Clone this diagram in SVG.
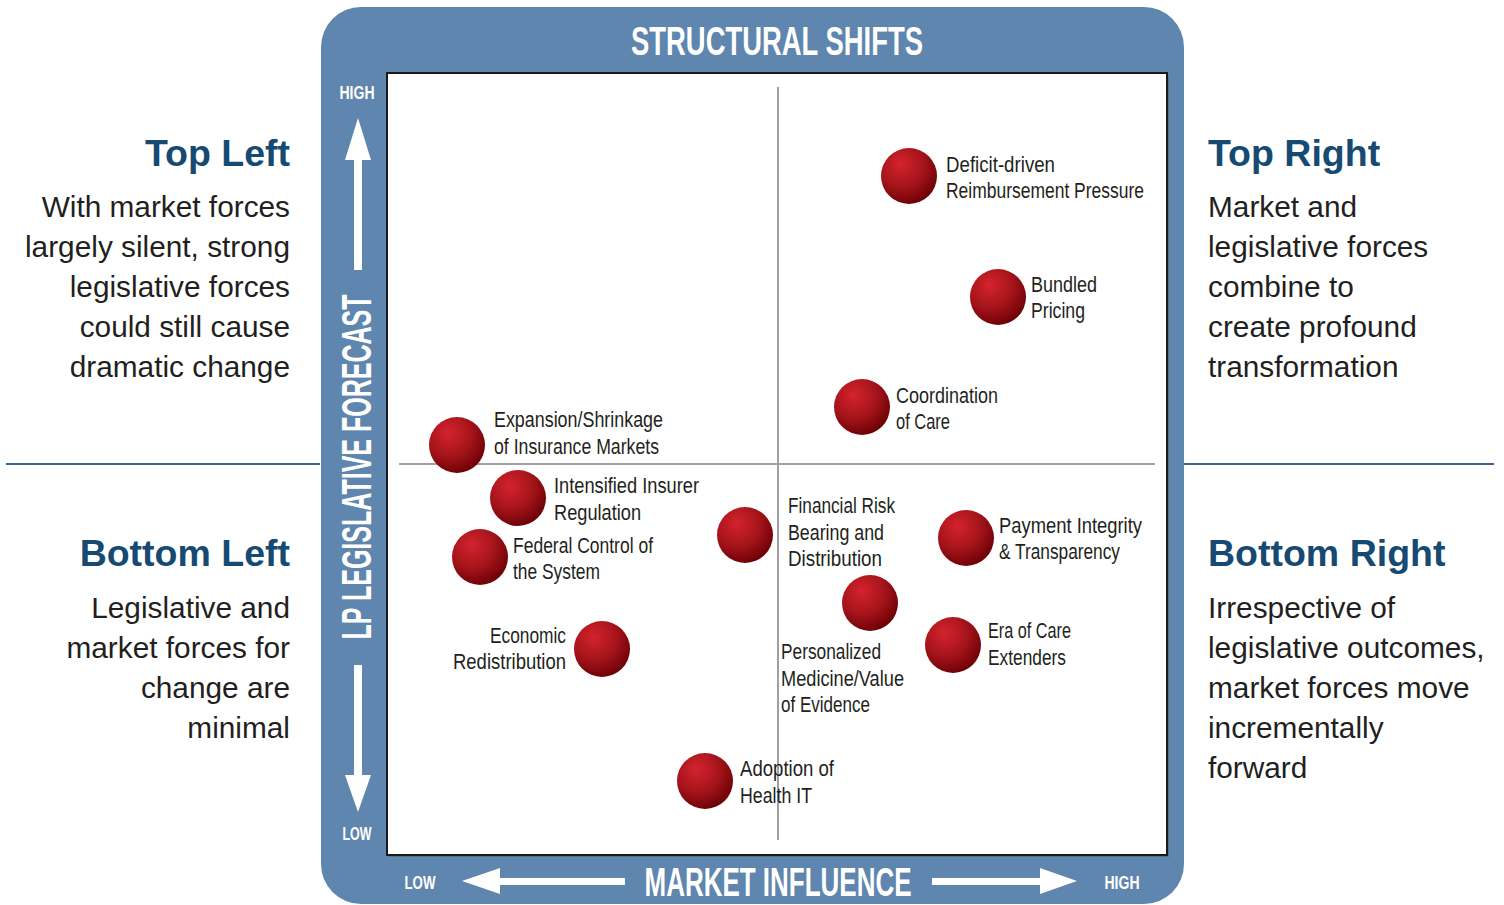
<svg xmlns="http://www.w3.org/2000/svg" width="1504" height="905" viewBox="0 0 1504 905">
<defs>
<radialGradient id="ball" cx="0.38" cy="0.32" r="0.72" fx="0.35" fy="0.28">
<stop offset="0" stop-color="#d5232d"/>
<stop offset="0.55" stop-color="#a5141b"/>
<stop offset="1" stop-color="#6a0004"/>
</radialGradient>
<style>
.frame{fill:#5f86ae}
.lbl{font-family:"Liberation Sans",Arial,sans-serif;font-size:22px;fill:#231f20}
.ax{font-family:"Liberation Sans",Arial,sans-serif;font-weight:bold;fill:#ffffff}
.hd{font-family:"Liberation Sans",Arial,sans-serif;font-weight:bold;font-size:37.5px;fill:#174a72}
.bd{font-family:"Liberation Sans",Arial,sans-serif;font-size:29.8px;fill:#231f20}
.arr{fill:#ffffff}
.sep{stroke:#3b6591;stroke-width:2}
.grid{stroke:#a0a0a0;stroke-width:2}
</style>
</defs>

<g id="frame">
<rect class="frame" x="321" y="7" width="863" height="897" rx="40" ry="40"/>
<rect x="389" y="75" width="780" height="782" fill="#555" opacity="0.5"/>
<rect x="387" y="73" width="780" height="782" fill="#ffffff" stroke="#1a1a1a" stroke-width="2"/>
<text class="ax" x="777" y="55" font-size="40" text-anchor="middle" textLength="292" lengthAdjust="spacingAndGlyphs">STRUCTURAL SHIFTS</text>
<text class="ax" x="778" y="896" font-size="40" text-anchor="middle" textLength="267" lengthAdjust="spacingAndGlyphs">MARKET INFLUENCE</text>
<text class="ax" x="371" y="467" font-size="42" text-anchor="middle" textLength="345" lengthAdjust="spacingAndGlyphs" transform="rotate(-90 371 467)">LP LEGISLATIVE FORECAST</text>
<text class="ax" x="357" y="99" font-size="19" text-anchor="middle" textLength="35" lengthAdjust="spacingAndGlyphs">HIGH</text>
<text class="ax" x="357" y="840" font-size="19" text-anchor="middle" textLength="29" lengthAdjust="spacingAndGlyphs">LOW</text>
<text class="ax" x="420" y="889" font-size="19" text-anchor="middle" textLength="31" lengthAdjust="spacingAndGlyphs">LOW</text>
<text class="ax" x="1122" y="889" font-size="19" text-anchor="middle" textLength="35" lengthAdjust="spacingAndGlyphs">HIGH</text>
<path class="arr" d="M358,118 L371,160 L362,160 L362,270 L354,270 L354,160 L345,160 Z"/>
<path class="arr" d="M358,812 L371,775 L362,775 L362,665 L354,665 L354,775 L345,775 Z"/>
<path class="arr" d="M462,881 L500,868 L500,878 L625,878 L625,885 L500,885 L500,894 Z"/>
<path class="arr" d="M1077,881 L1040,868 L1040,878 L932,878 L932,885 L1040,885 L1040,894 Z"/>
</g>

<g id="connectors">
<line class="sep" x1="6" y1="464" x2="320" y2="464"/>
<line class="sep" x1="1184" y1="464" x2="1494" y2="464"/>
<line class="grid" x1="399" y1="464" x2="1155" y2="464"/>
<line class="grid" x1="778" y1="87" x2="778" y2="840"/>
</g>

<g id="top-left">
<text class="hd" x="290" y="166" text-anchor="end">Top Left</text>
<text class="bd" x="290" y="217" text-anchor="end">With market forces</text>
<text class="bd" x="290" y="257" text-anchor="end">largely silent, strong</text>
<text class="bd" x="290" y="297" text-anchor="end">legislative forces</text>
<text class="bd" x="290" y="337" text-anchor="end">could still cause</text>
<text class="bd" x="290" y="377" text-anchor="end">dramatic change</text>
</g>
<g id="top-right">
<text class="hd" x="1208" y="166">Top Right</text>
<text class="bd" x="1208" y="217">Market and</text>
<text class="bd" x="1208" y="257">legislative forces</text>
<text class="bd" x="1208" y="297">combine to</text>
<text class="bd" x="1208" y="337">create profound</text>
<text class="bd" x="1208" y="377">transformation</text>
</g>
<g id="bottom-left">
<text class="hd" x="290" y="566" text-anchor="end">Bottom Left</text>
<text class="bd" x="290" y="618" text-anchor="end">Legislative and</text>
<text class="bd" x="290" y="658" text-anchor="end">market forces for</text>
<text class="bd" x="290" y="698" text-anchor="end">change are</text>
<text class="bd" x="290" y="738" text-anchor="end">minimal</text>
</g>
<g id="bottom-right">
<text class="hd" x="1208" y="566">Bottom Right</text>
<text class="bd" x="1208" y="618">Irrespective of</text>
<text class="bd" x="1208" y="658">legislative outcomes,</text>
<text class="bd" x="1208" y="698">market forces move</text>
<text class="bd" x="1208" y="738">incrementally</text>
<text class="bd" x="1208" y="778">forward</text>
</g>

<g id="deficit">
<circle cx="909" cy="176" r="28" fill="url(#ball)"/>
<text class="lbl" x="946" y="172" textLength="109" lengthAdjust="spacingAndGlyphs">Deficit-driven</text>
<text class="lbl" x="946" y="198" textLength="198" lengthAdjust="spacingAndGlyphs">Reimbursement Pressure</text>
</g>
<g id="bundled">
<circle cx="998" cy="297" r="28" fill="url(#ball)"/>
<text class="lbl" x="1031" y="292" textLength="66" lengthAdjust="spacingAndGlyphs">Bundled</text>
<text class="lbl" x="1031" y="318" textLength="54" lengthAdjust="spacingAndGlyphs">Pricing</text>
</g>
<g id="coordination">
<circle cx="862" cy="407" r="28" fill="url(#ball)"/>
<text class="lbl" x="896" y="403" textLength="102" lengthAdjust="spacingAndGlyphs">Coordination</text>
<text class="lbl" x="896" y="429" textLength="54" lengthAdjust="spacingAndGlyphs">of Care</text>
</g>
<g id="expansion">
<circle cx="457" cy="445" r="28" fill="url(#ball)"/>
<text class="lbl" x="494" y="427" textLength="169" lengthAdjust="spacingAndGlyphs">Expansion/Shrinkage</text>
<text class="lbl" x="494" y="454" textLength="165" lengthAdjust="spacingAndGlyphs">of Insurance Markets</text>
</g>
<g id="intensified">
<circle cx="518" cy="498" r="28" fill="url(#ball)"/>
<text class="lbl" x="554" y="493" textLength="145" lengthAdjust="spacingAndGlyphs">Intensified Insurer</text>
<text class="lbl" x="554" y="520" textLength="87" lengthAdjust="spacingAndGlyphs">Regulation</text>
</g>
<g id="federal">
<circle cx="480" cy="557" r="28" fill="url(#ball)"/>
<text class="lbl" x="513" y="553" textLength="140" lengthAdjust="spacingAndGlyphs">Federal Control of</text>
<text class="lbl" x="513" y="579" textLength="87" lengthAdjust="spacingAndGlyphs">the System</text>
</g>
<g id="financial">
<circle cx="745" cy="535" r="28" fill="url(#ball)"/>
<text class="lbl" x="788" y="513" textLength="107" lengthAdjust="spacingAndGlyphs">Financial Risk</text>
<text class="lbl" x="788" y="540" textLength="96" lengthAdjust="spacingAndGlyphs">Bearing and</text>
<text class="lbl" x="788" y="566" textLength="94" lengthAdjust="spacingAndGlyphs">Distribution</text>
</g>
<g id="payment">
<circle cx="966" cy="538" r="28" fill="url(#ball)"/>
<text class="lbl" x="999" y="533" textLength="143" lengthAdjust="spacingAndGlyphs">Payment Integrity</text>
<text class="lbl" x="999" y="559" textLength="121" lengthAdjust="spacingAndGlyphs">&amp; Transparency</text>
</g>
<g id="personalized">
<circle cx="870" cy="603" r="28" fill="url(#ball)"/>
<text class="lbl" x="781" y="659" textLength="100" lengthAdjust="spacingAndGlyphs">Personalized</text>
<text class="lbl" x="781" y="686" textLength="123" lengthAdjust="spacingAndGlyphs">Medicine/Value</text>
<text class="lbl" x="781" y="712" textLength="89" lengthAdjust="spacingAndGlyphs">of Evidence</text>
</g>
<g id="era">
<circle cx="953" cy="645" r="28" fill="url(#ball)"/>
<text class="lbl" x="988" y="638" textLength="83" lengthAdjust="spacingAndGlyphs">Era of Care</text>
<text class="lbl" x="988" y="665" textLength="78" lengthAdjust="spacingAndGlyphs">Extenders</text>
</g>
<g id="economic">
<circle cx="602" cy="649" r="28" fill="url(#ball)"/>
<text class="lbl" x="566" y="643" text-anchor="end" textLength="76" lengthAdjust="spacingAndGlyphs">Economic</text>
<text class="lbl" x="566" y="669" text-anchor="end" textLength="113" lengthAdjust="spacingAndGlyphs">Redistribution</text>
</g>
<g id="adoption">
<circle cx="705" cy="781" r="28" fill="url(#ball)"/>
<text class="lbl" x="740" y="776" textLength="94" lengthAdjust="spacingAndGlyphs">Adoption of</text>
<text class="lbl" x="740" y="803" textLength="72" lengthAdjust="spacingAndGlyphs">Health IT</text>
</g>
</svg>
